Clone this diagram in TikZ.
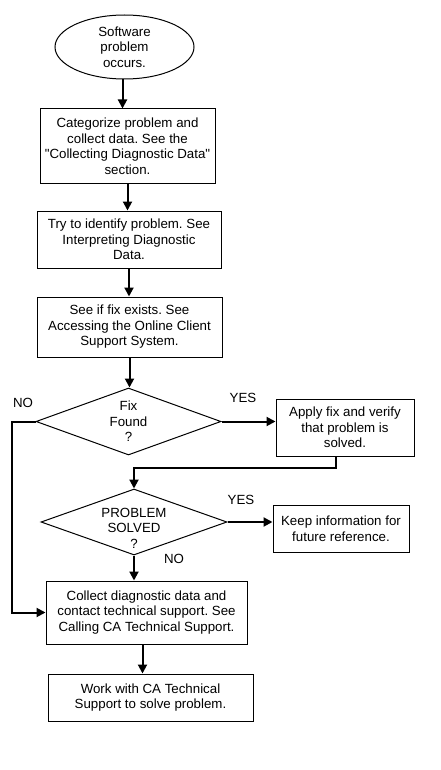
\documentclass[tikz,border=0pt]{standalone}
\usepackage{fontspec}
\setmainfont{Liberation Sans}[Ligatures=TeXOff]
\usetikzlibrary{shapes.geometric,arrows.meta}
\frenchspacing

\begin{document}
\begin{tikzpicture}[x=1pt, y=-1pt,
	font=\fontsize{13.3pt}{15.5pt}\selectfont,
	procbox/.style={shape=rectangle, draw=black, line width=1pt,
					align=center, inner sep=0pt},
	decision/.style={shape=diamond, draw=black, line width=1pt,
					 inner sep=0pt},
	terminal/.style={shape=ellipse, draw=black, line width=1pt,
					 align=center, inner sep=0pt},
	flow/.style={-{Triangle[length=9pt, width=9pt]}, line width=2pt},
	answer/.style={inner sep=0pt}]

	\useasboundingbox[fill=white] (0,0) rectangle (440,770);

	\draw (124.5,47) node[terminal,
					 minimum width=139pt,
					 minimum height=64pt](start){Software\\problem\\occurs.};
	\draw (127.5,146) node[procbox,
					 minimum width=175pt,
					 minimum height=74pt](categorize){Categorize problem and\\collect data. See the\\"Collecting Diagnostic Data"\\section.};
	\draw (129,239.5) node[procbox,
					 minimum width=184pt,
					 minimum height=57pt](identify){Try to identify problem. See\\Interpreting Diagnostic\\Data.};
	\draw (129.5,327) node[procbox,
					 minimum width=185pt,
					 minimum height=60pt](fixexists){See if fix exists. See\\Accessing the Online Client\\Support System.};

	% first decision
	\draw (128.5,421.5) node[decision,
					 minimum width=185pt,
					 minimum height=67pt,
					 label={[align=center]center:Fix\\Found\\?}](fixfound){};
	\draw (345,427.5) node[procbox,
					 minimum width=138pt,
					 minimum height=57pt](apply){Apply fix and verify\\that problem is\\solved.};

	% second decision
	\draw (134,522) node[decision,
					 minimum width=186pt,
					 minimum height=66pt,
					 label={[align=center, yshift=-6pt]center:PROBLEM\\SOLVED\\?}](solved){};
	\draw (341,528.5) node[procbox,
					 minimum width=136pt,
					 minimum height=47pt](keep){Keep information for\\future reference.};

	\draw (146.5,612.5) node[procbox,
					 minimum width=201pt,
					 minimum height=63pt](collect){Collect diagnostic data and\\contact technical support. See\\Calling CA Technical Support.};
	\draw (150.5,697.5) node[procbox,
					 minimum width=205pt,
					 minimum height=47pt](work){Work with CA Technical\\Support to solve problem.};

	% answers
	\draw (23,403) node[answer](no1){NO};
	\draw (243,398) node[answer](yes1){YES};
	\draw (241,500) node[answer](yes2){YES};
	\draw (174,559) node[answer](no2){NO};

	\draw [flow]([xshift=-2pt]start.south) -- ([xshift=-2pt]start.south |- categorize.north);
	\draw [flow](categorize.south) -- (categorize.south |- identify.north);
	\draw [flow](identify.south) -- (identify.south |- fixexists.north);
	\draw [flow](fixexists.south) -- (fixexists.south |- fixfound.north);
	\draw [flow](fixfound.east) -- (fixfound.east -| apply.west);
	\draw [flow]([xshift=-9pt]apply.south) -- ++(0,11) -| (solved.north);
	\draw [flow](solved.east) -- (solved.east -| keep.west);
	\draw [flow](solved.south) -- (solved.south |- collect.north);
	\draw [flow](fixfound.west) -- ++(-24,0) |- (collect.west);
	\draw [flow]([xshift=-4pt]collect.south) -- ([xshift=-4pt]collect.south |- work.north);
\end{tikzpicture}
\end{document}
